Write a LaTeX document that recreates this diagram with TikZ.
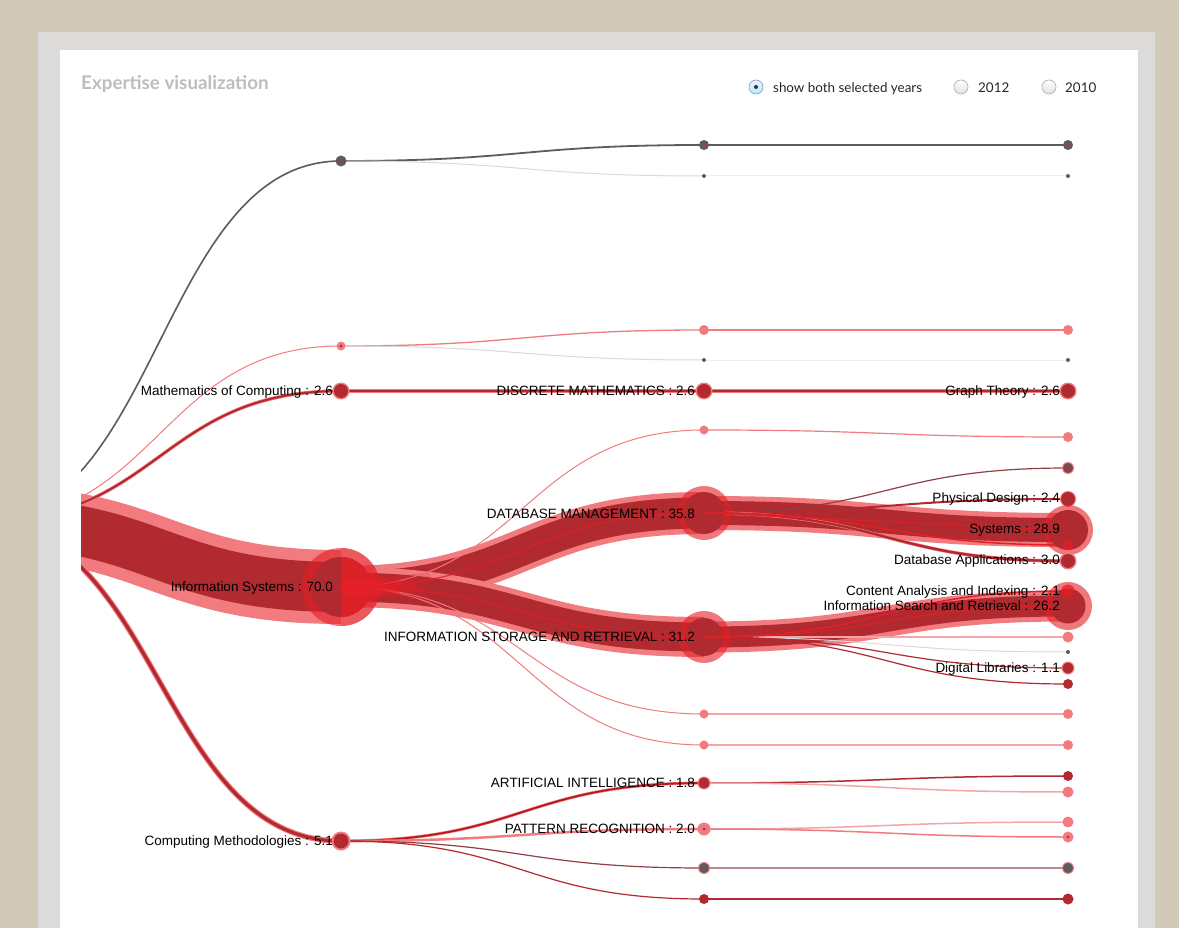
\documentclass[tikz,border=0pt]{standalone}
\usepackage{fontspec}
\setmainfont{Liberation Sans}
\newfontfamily\latof{Lato}
\usetikzlibrary{calc}
\definecolor{bgbeige}{HTML}{D1C9B7}
\definecolor{panelgray}{HTML}{DCDBDA}
\definecolor{pinkc}{HTML}{F17B7E}
\definecolor{lpinkc}{HTML}{F5A5A7}
\definecolor{darkc}{HTML}{B02A30}
\definecolor{brightc}{HTML}{E51F27}
\definecolor{grayc}{HTML}{5D5B5C}
\definecolor{lgrayc}{HTML}{D9D9D9}
\definecolor{xlgrayc}{HTML}{EEEEEE}
\definecolor{brownc}{HTML}{8E4044}
\definecolor{mauvec}{HTML}{B98A8C}
\definecolor{titlegray}{HTML}{BDBDBD}
\definecolor{radioborder}{HTML}{ABABAB}
\definecolor{radioblue}{HTML}{7F9FC9}
\newcommand{\twocirc}[5]{\fill[#4] (#1) circle (#2); \fill[#5] (#1) circle (#3);}
\newcommand{\onecirc}[3]{\fill[#3] (#1) circle (#2);}
\newcommand{\glowstep}[3]{\begin{scope}\clip (#1,540) rectangle (#2,640);
\draw[diag, draw=brightc, opacity=#3, line width=16pt] (IS) to (DBM);
\draw[diag, draw=brightc, opacity=#3, line width=16pt] (IS) to (ISR);
\end{scope}}
\begin{document}
\begin{tikzpicture}[x=1pt,y=-1pt,
  diag/.style={to path={let \p1=(\tikztostart),\p2=(\tikztotarget) in .. controls ($(\x1,\y1)!0.5!(\x2,\y1)$) and ($(\x1,\y2)!0.5!(\x2,\y2)$) .. (\tikztotarget)}},
  band/.style={diag, draw=pinkc},
  core/.style={diag, draw=darkc},
  thin/.style={diag, line width=#1},
  lbl/.style={anchor=base east, inner sep=0pt, font=\fontsize{13.5}{16}\selectfont, text=black},
  radio/.style={circle, draw=radioborder, line width=0.6pt, top color=white, bottom color=black!12, minimum size=14pt, inner sep=0pt},
  radiosel/.style={circle, draw=radioblue, line width=0.6pt, top color=blue!6, bottom color=blue!25!cyan!30, minimum size=14pt, inner sep=0pt},
  radiotxt/.style={anchor=base west, inner sep=0pt, font=\latof\fontsize{13.4}{16}\selectfont, text=black!85},
]
\useasboundingbox (0,0) rectangle (1179,928);
\fill[bgbeige] (0,0) rectangle (1179,928);
\fill[panelgray] (38,32) rectangle (1155,928);
\fill[white] (60,50) rectangle (1138,928);

% header
\node[anchor=base west, inner sep=0pt, font=\latof\bfseries\fontsize{18.8}{20}\selectfont, text=titlegray] (title) at (81,90) {Expertise visualization};
\node[radiosel] (rb1) at (756,87) {};
\fill[black!80] (rb1) circle (2pt);
\node[radiotxt] (rt1) at (773,92.5) {show both selected years};
\node[radio] (rb2) at (961,87) {};
\node[radiotxt] (rt2) at (978,92.5) {2012};
\node[radio] (rb3) at (1049,87) {};
\node[radiotxt] (rt3) at (1065,92.5) {2010};

% positions
\coordinate (R) at (-22,522);
\coordinate (A1) at (341,161);
\coordinate (A2) at (341,346);
\coordinate (MC) at (341,391);
\coordinate (IS) at (341,587);
\coordinate (CM) at (341,841);
\coordinate (B1) at (704,145);
\coordinate (B2) at (704,176);
\coordinate (B3) at (704,330);
\coordinate (B4) at (704,360);
\coordinate (DM) at (704,391);
\coordinate (B5) at (704,430);
\coordinate (DBM) at (704,513);
\coordinate (ISR) at (704,637);
\coordinate (B6) at (704,714);
\coordinate (B7) at (704,745);
\coordinate (AI) at (704,783);
\coordinate (PR) at (704,829);
\coordinate (B8) at (704,868);
\coordinate (B9) at (704,899);
\coordinate (C1) at (1068,145);
\coordinate (C2) at (1068,176);
\coordinate (C3) at (1068,330);
\coordinate (C4) at (1068,360);
\coordinate (GT) at (1068,391);
\coordinate (C5) at (1068,437);
\coordinate (C6) at (1068,468);
\coordinate (PD) at (1068,499);
\coordinate (SY) at (1068,530);
\coordinate (C7) at (1068,545);
\coordinate (DA) at (1068,561);
\coordinate (CA) at (1068,591);
\coordinate (IT) at (1068,606);
\coordinate (C8) at (1068,637);
\coordinate (C9) at (1068,652);
\coordinate (DL) at (1068,668);
\coordinate (C10) at (1068,684);
\coordinate (C11) at (1068,714);
\coordinate (C12) at (1068,745);
\coordinate (C13) at (1068,776);
\coordinate (C14) at (1068,792);
\coordinate (C15) at (1068,822);
\coordinate (C16) at (1068,837);
\coordinate (C17) at (1068,868);
\coordinate (C18) at (1068,899);

\begin{scope}
\clip (81,50) rectangle (1138,928);
% thick bands
\draw[band, line width=74pt] (R) to (IS);
\draw[core, line width=50pt] (R) to (IS);
\draw[band, line width=42pt] (IS) to (DBM);
\draw[core, line width=31pt] (IS) to (DBM);
\draw[band, line width=40pt] (IS) to (ISR);
\draw[core, line width=29pt] (IS) to (ISR);
\draw[band, line width=34pt] (DBM) to (SY);
\draw[core, line width=24pt] (DBM) to (SY);
\draw[band, line width=31pt] (ISR) to (IT);
\draw[core, line width=21pt] (ISR) to (IT);

% level 1 links
\draw[thin=1.6pt, draw=grayc] (R) to (A1);
\draw[thin=1pt, draw=pinkc] (R) to (A2);
\draw[band, line width=3.5pt] (R) to (MC);
\draw[core, line width=2pt] (R) to (MC);
\draw[band, line width=5.5pt] (R) to (CM);
\draw[core, line width=3.2pt] (R) to (CM);

% level 2 links
\draw[thin=1.8pt, draw=grayc] (A1) to (B1);
\draw[thin=1pt, draw=lgrayc] (A1) to (B2);
\draw[thin=1.3pt, draw=pinkc] (A2) to (B3);
\draw[thin=1pt, draw=lgrayc] (A2) to (B4);
\draw[band, line width=3.5pt] (MC) to (DM);
\draw[core, line width=2pt] (MC) to (DM);
\draw[thin=1pt, draw=pinkc] (IS) to (B5);
\draw[thin=1pt, draw=pinkc] (IS) to (B6);
\draw[thin=1pt, draw=pinkc] (IS) to (B7);
\draw[band, line width=3pt] (CM) to (AI);
\draw[thin=1.8pt, draw=brightc!80!black] (CM) to (AI);
\draw[thin=2.5pt, draw=pinkc] (CM) to (PR);
\draw[thin=1.2pt, draw=brownc] (CM) to (B8);
\draw[thin=1.2pt, draw=darkc] (CM) to (B9);

% level 3 links
\draw[thin=1.6pt, draw=grayc] (B1) to (C1);
\draw[thin=1pt, draw=xlgrayc] (B2) to (C2);
\draw[thin=1.3pt, draw=pinkc] (B3) to (C3);
\draw[thin=1pt, draw=xlgrayc] (B4) to (C4);
\draw[band, line width=3.5pt] (DM) to (GT);
\draw[core, line width=2pt] (DM) to (GT);
\draw[thin=1.2pt, draw=pinkc] (B5) to (C5);
\draw[thin=1.2pt, draw=brownc] (DBM) to (C6);
\draw[thin=2pt, draw=darkc] (DBM) to (PD);
\draw[band, line width=3.5pt] (DBM) to (DA);
\draw[core, line width=2.3pt] (DBM) to (DA);
\draw[thin=2pt, draw=lpinkc] (ISR) to (C8);
\draw[thin=1pt, draw=lgrayc] (ISR) to (C9);
\draw[thin=1.2pt, draw=darkc] (ISR) to (DL);
\draw[thin=1.2pt, draw=darkc] (ISR) to (C10);
\draw[thin=1.4pt, draw=lpinkc] (B6) to (C11);
\draw[thin=1.4pt, draw=lpinkc] (B7) to (C12);
\draw[thin=1.5pt, draw=darkc] (AI) to (C13);
\draw[thin=1.5pt, draw=lpinkc] (AI) to (C14);
\draw[thin=1.5pt, draw=lpinkc] (PR) to (C15);
\draw[thin=1.5pt, draw=pinkc] (PR) to (C16);
\draw[thin=1.5pt, draw=mauvec] (B8) to (C17);
\draw[thin=1.3pt, draw=darkc] (B9) to (C18);

% level 1 nodes
\twocirc{A1}{5.5pt}{1.2pt}{grayc}{brightc}
\twocirc{A2}{4.5pt}{1.5pt}{pinkc}{darkc}
\twocirc{MC}{8.5pt}{7pt}{pinkc}{darkc}
\twocirc{IS}{39pt}{30pt}{brightc,opacity=0.6}{darkc}
\twocirc{CM}{9.5pt}{7.5pt}{pinkc}{darkc}

% bright start of the branches out of Information Systems
\begin{scope}
\clip (341,540) rectangle (390,640);
\fill[brightc, opacity=0.35] (IS) circle (39pt);
\fill[brightc, opacity=0.7] (IS) circle (30pt);
\end{scope}
\glowstep{341}{385}{0.7}
\glowstep{385}{400}{0.5}
\glowstep{400}{415}{0.3}
\glowstep{415}{430}{0.15}
\draw[thin=1.2pt, draw=brightc, opacity=0.8] (IS) to (DBM);
\draw[thin=1.2pt, draw=brightc, opacity=0.8] (IS) to (ISR);

% level 2 nodes
\twocirc{B1}{5pt}{1.2pt}{grayc}{brightc}
\onecirc{B2}{2pt}{grayc}
\onecirc{B3}{5pt}{pinkc}
\onecirc{B4}{2pt}{grayc}
\twocirc{DM}{8.5pt}{7pt}{pinkc}{darkc}
\onecirc{B5}{4.5pt}{pinkc}
\twocirc{DBM}{27pt}{21pt}{brightc,opacity=0.6}{darkc}
\twocirc{ISR}{26pt}{19pt}{brightc,opacity=0.6}{darkc}
\onecirc{B6}{4.5pt}{pinkc}
\onecirc{B7}{4.5pt}{pinkc}
\twocirc{AI}{6.5pt}{5.5pt}{pinkc}{darkc}
\twocirc{PR}{6.5pt}{1.5pt}{pinkc}{darkc}
\twocirc{B8}{6pt}{5pt}{pinkc}{grayc}
\onecirc{B9}{5pt}{darkc}

% thin bright links drawn over the nodes
\draw[thin=1.5pt, draw=brightc] (DBM) to (C7);
\draw[thin=1.5pt, draw=brightc] (ISR) to (CA);
\draw[thin=1.2pt, draw=brightc, opacity=0.8] (DBM) -- (SY);
\draw[thin=1.2pt, draw=brightc, opacity=0.8] (ISR) to (IT);

% level 3 nodes
\twocirc{C1}{5pt}{1.2pt}{grayc}{brightc}
\onecirc{C2}{2pt}{grayc}
\onecirc{C3}{5pt}{pinkc}
\onecirc{C4}{2pt}{grayc}
\twocirc{GT}{8.5pt}{7pt}{pinkc}{darkc}
\onecirc{C5}{5pt}{pinkc}
\twocirc{C6}{6pt}{5pt}{pinkc}{grayc!60!darkc}
\twocirc{PD}{8pt}{7pt}{pinkc}{darkc}
\twocirc{SY}{25pt}{20pt}{brightc,opacity=0.6}{darkc}
\onecirc{C7}{5pt}{brightc,opacity=0.85}
\twocirc{DA}{8.5pt}{7pt}{pinkc}{darkc}
\twocirc{IT}{24pt}{17.5pt}{brightc,opacity=0.6}{darkc}
\onecirc{CA}{6.5pt}{brightc,opacity=0.75}
\onecirc{C8}{5.5pt}{pinkc}
\onecirc{C9}{2pt}{grayc}
\twocirc{DL}{6.5pt}{5.5pt}{pinkc}{darkc}
\onecirc{C10}{5pt}{darkc}
\onecirc{C11}{5pt}{pinkc}
\onecirc{C12}{5pt}{pinkc}
\onecirc{C13}{5pt}{darkc}
\onecirc{C14}{5.5pt}{pinkc}
\onecirc{C15}{5.5pt}{pinkc}
\twocirc{C16}{5.5pt}{1.5pt}{pinkc}{darkc}
\twocirc{C17}{6pt}{5pt}{pinkc}{grayc}
\onecirc{C18}{5.5pt}{darkc}
\end{scope}

% labels
\node[lbl] (lMC) at ($(MC)+(-8,4.7)$) {Mathematics of Computing : 2.6};
\node[lbl] (lIS) at ($(IS)+(-8,4.7)$) {Information Systems : 70.0};
\node[lbl] (lCM) at ($(CM)+(-8,4.7)$) {Computing Methodologies : 5.1};
\node[lbl] (lDM) at ($(DM)+(-9,4.7)$) {DISCRETE MATHEMATICS : 2.6};
\node[lbl] (lDBM) at ($(DBM)+(-9,5.7)$) {DATABASE MANAGEMENT : 35.8};
\node[lbl] (lISR) at ($(ISR)+(-9,4.7)$) {INFORMATION STORAGE AND RETRIEVAL : 31.2};
\node[lbl] (lAI) at ($(AI)+(-9,4.7)$) {ARTIFICIAL INTELLIGENCE : 1.8};
\node[lbl] (lPR) at ($(PR)+(-9,4.7)$) {PATTERN RECOGNITION : 2.0};
\node[lbl] (lGT) at ($(GT)+(-8,4.7)$) {Graph Theory : 2.6};
\node[lbl] (lPD) at ($(PD)+(-8,3.7)$) {Physical Design : 2.4};
\node[lbl] (lSY) at ($(SY)+(-8,3.7)$) {Systems : 28.9};
\node[lbl] (lDA) at ($(DA)+(-8,3.7)$) {Database Applications : 3.0};
\node[lbl] (lCA) at ($(CA)+(-8,4.7)$) {Content Analysis and Indexing : 2.1};
\node[lbl] (lIT) at ($(IT)+(-8,4.7)$) {Information Search and Retrieval : 26.2};
\node[lbl] (lDL) at ($(DL)+(-8,4.7)$) {Digital Libraries : 1.1};
\end{tikzpicture}
\end{document}
